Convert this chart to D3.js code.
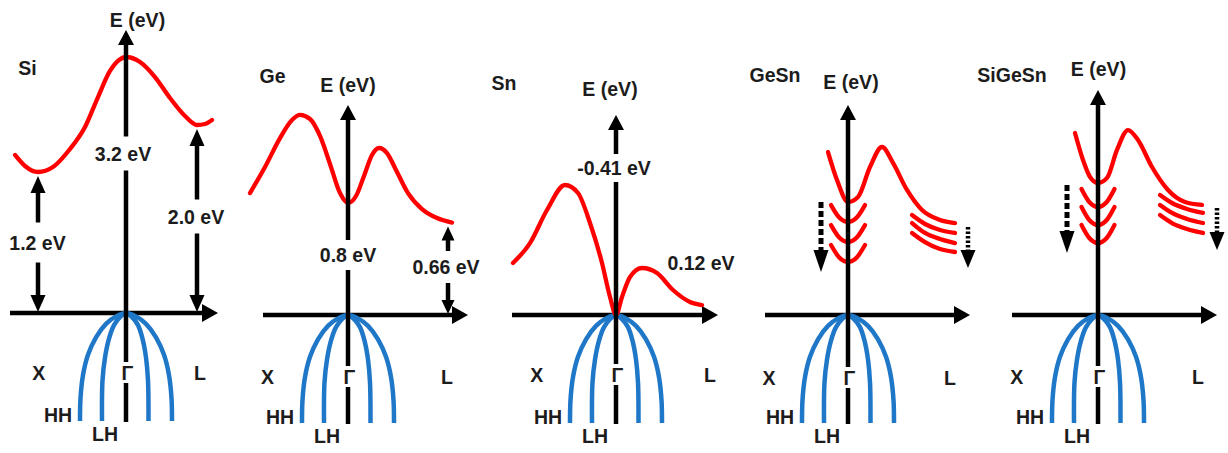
<!DOCTYPE html>
<html>
<head>
<meta charset="utf-8">
<script src="https://cdn.jsdelivr.net/npm/d3@7"></script>
<style>
  html, body { margin: 0; padding: 0; background: #ffffff; }
  svg { display: block; }
  text { font-family: "Liberation Sans", Arial, sans-serif; font-weight: bold; font-size: 19.5px; fill: #1c1c1c; }
</style>
</head>
<body>
<svg id="chart" width="1228" height="453"></svg>
<script>
// ---- data -----------------------------------------------------------------
const materials = ["Si", "Ge", "Sn", "GeSn", "SiGeSn"];
const symmetryPoints = ["X", "\u0393", "L"];
const bandNames = ["HH", "LH"];
const axisTitle = "E (eV)";

// lowest conduction band, [k, E]: k runs X (-1) -> Gamma (0) -> L (+1), E in eV
const siCB = [[-1.11,1.49],[-1.01,1.302],[-0.88,1.2],[-0.73,1.285],[-0.56,1.591],[-0.41,1.966],[-0.28,2.494],[-0.16,2.953],[-0.07,3.147],[0,3.2],[0.14,3.112],[0.29,2.847],[0.44,2.476],[0.59,2.159],[0.71,2.0],[0.79,2.018],[0.86,2.088]];
const geCB = [[-0.98,0.871],[-0.83,1.057],[-0.68,1.264],[-0.56,1.393],[-0.48,1.429],[-0.38,1.4],[-0.28,1.279],[-0.18,1.079],[-0.08,0.871],[0,0.8],[0.08,0.85],[0.16,0.993],[0.24,1.143],[0.31,1.193],[0.39,1.157],[0.48,1.036],[0.60,0.871],[0.74,0.757],[0.89,0.693],[1.04,0.66]];
const snCB = [[-1.03,0.627],[-0.86,0.867],[-0.69,1.265],[-0.51,1.566],[-0.38,1.47],[-0.26,1.108],[-0.14,0.627],[-0.06,0.217],[0,0],[0.06,0.217],[0.14,0.458],[0.26,0.566],[0.41,0.506],[0.57,0.301],[0.74,0.157],[0.86,0.12]];
const geSnCB = [[-0.20,1.164],[-0.11,0.964],[0,0.807],[0.10,0.843],[0.22,1.057],[0.34,1.2],[0.45,1.086],[0.59,0.893],[0.74,0.75],[0.92,0.679],[1.07,0.657]];
const siGeSnCB = [[-0.23,1.3],[-0.15,1.107],[-0.08,0.986],[0,0.943],[0.09,0.979],[0.19,1.179],[0.30,1.321],[0.40,1.25],[0.54,1.057],[0.70,0.893],[0.87,0.807],[1.04,0.786]];

// lowered Gamma and L valleys of the alloys
const geSnGammaValleys = [
  [[-0.17,0.785],[-0.09,0.698],[0,0.664],[0.09,0.698],[0.17,0.785]],
  [[-0.17,0.642],[-0.09,0.555],[0,0.521],[0.09,0.555],[0.17,0.642]],
  [[-0.17,0.50],[-0.09,0.413],[0,0.379],[0.09,0.413],[0.17,0.50]]
];
const geSnLValleys = [
  [[0.64,0.714],[0.77,0.65],[0.92,0.607],[1.07,0.586]],
  [[0.64,0.657],[0.77,0.586],[0.92,0.543],[1.07,0.514]],
  [[0.64,0.586],[0.77,0.521],[0.92,0.471],[1.07,0.45]]
];
const siGeSnGammaValleys = [
  [[-0.165,0.90],[-0.085,0.805],[0,0.771],[0.085,0.805],[0.165,0.90]],
  [[-0.165,0.772],[-0.085,0.677],[0,0.643],[0.085,0.677],[0.165,0.772]],
  [[-0.165,0.643],[-0.085,0.548],[0,0.514],[0.085,0.548],[0.165,0.643]]
];
const siGeSnLValleys = [
  [[0.62,0.857],[0.74,0.80],[0.89,0.757],[1.05,0.729]],
  [[0.62,0.786],[0.74,0.729],[0.89,0.686],[1.05,0.657]],
  [[0.62,0.714],[0.74,0.657],[0.89,0.614],[1.05,0.586]]
];

// heavy-hole and light-hole valence bands (same for every material)
const hhBand = [[-0.46,-0.8],[-0.455,-0.63],[-0.43,-0.46],[-0.38,-0.31],[-0.3,-0.18],[-0.2,-0.08],[-0.1,-0.025],[0,0],[0.1,-0.025],[0.2,-0.08],[0.3,-0.18],[0.38,-0.31],[0.43,-0.46],[0.455,-0.63],[0.46,-0.8]];
const lhBand = [[-0.24,-0.8],[-0.235,-0.5],[-0.21,-0.33],[-0.17,-0.19],[-0.12,-0.09],[-0.06,-0.03],[0,0],[0.06,-0.03],[0.12,-0.09],[0.165,-0.19],[0.2,-0.33],[0.22,-0.5],[0.225,-0.8]];
const bandLabelK = [-0.68, -0.21];
const bandLabelE = [-0.755, -0.896];

// marked gaps: k position and value in eV
const siGapK = [-0.88, 0, 0.71];
const siGapE = [1.2, 3.2, 2.0];
const geGapK = [0, 1.0];
const geGapE = [0.8, 0.66];
const snGapK = [0, 0.86];
const snGapE = [-0.41, 0.12];

// downward shift of the alloy valleys: [k, E from, E to]
const geSnShifts = [[-0.27, 0.807, 0.307], [1.2, 0.629, 0.336]];
const siGeSnShifts = [[-0.31, 0.929, 0.443], [1.19, 0.764, 0.464]];

// ---- layout ---------------------------------------------------------------
const panels = [
  { cb: siCB, gk: siGapK, ge: siGapE, kinds: ["arrow","axis","arrow"],
    gx: 126, axisY: 313, x0: 10, x1: 218, top: 30,
    eDom: [-0.8, 0, 1.2, 2.0, 3.2], eOff: [108, 0, -141, -188, -256],
    title: [27.5, 67.5], eTitle: [137.5, 19.7], symX: [38.7, 200], symDy: 60,
    labelPos: [[37.5, 242.5], [123, 153.5], [196, 216.5]], half: [20, 17, 17], head: [15, 17] },
  { cb: geCB, gk: geGapK, ge: geGapE, kinds: ["axis","arrow"],
    gx: 348, axisY: 315, x0: 263, x1: 468, top: 105,
    eDom: [-0.8, 0, 1], eOff: [108, 0, -140],
    title: [272.5, 76], eTitle: [348, 85], symX: [267.5, 447], symDy: 62,
    labelPos: [[348, 255], [446, 267]], half: [15, 16], head: [13, 14] },
  { cb: snCB, gk: snGapK, ge: snGapE, kinds: ["axis","text"],
    gx: 616, axisY: 315, x0: 512, x1: 718, top: 115,
    eDom: [-0.8, 0, 1], eOff: [108, 0, -83],
    title: [504, 83], eTitle: [610, 89], symX: [536.7, 710], symDy: 60,
    labelPos: [[614, 168], [701, 262.5]], half: [14, 0], head: [13, 14] },
  { cb: geSnCB, gv: geSnGammaValleys, lv: geSnLValleys, shifts: geSnShifts,
    gx: 848, axisY: 315, x0: 765, x1: 970, top: 105,
    eDom: [-0.8, 0, 1], eOff: [108, 0, -140],
    title: [775, 74.5], eTitle: [851, 82], symX: [769, 950], symDy: 63 },
  { cb: siGeSnCB, gv: siGeSnGammaValleys, lv: siGeSnLValleys, shifts: siGeSnShifts,
    gx: 1098, axisY: 315, x0: 1012, x1: 1217, top: 90,
    eDom: [-0.8, 0, 1], eOff: [108, 0, -140],
    title: [1012, 74.5], eTitle: [1098.5, 69], symX: [1016.7, 1198], symDy: 62 }
];

const INK = "#000000";
const RED = "#ff0000";
const BLUE = "#1f77c8";
const CAP = 7;          // half cap height, centres text on a y position

const svg = d3.select("#chart");

const fmt = v => v.toFixed(Math.round(Math.abs(v) * 100) % 10 === 0 ? 1 : 2) + " eV";

function head(g, x, tipY, dir, w, l) {
  // dir -1: points up, +1: points down
  const by = tipY - dir * l;
  g.append("path")
    .attr("d", `M${x},${tipY}L${x - w / 2},${by}L${x + w / 2},${by}Z`)
    .attr("fill", INK);
}

function seg(g, x, y0, y1, w, dash) {
  if (y1 <= y0) return;
  const s = g.append("line")
    .attr("x1", x).attr("x2", x).attr("y1", y0).attr("y2", y1)
    .attr("stroke", INK).attr("stroke-width", w);
  if (dash) s.attr("stroke-dasharray", dash);
}

// cut [a, b] by a list of [gapStart, gapEnd]
function pieces(a, b, gaps) {
  let out = [[a, b]];
  gaps.forEach(([g0, g1]) => {
    const next = [];
    out.forEach(([s, e]) => {
      if (g1 <= s || g0 >= e) { next.push([s, e]); return; }
      if (g0 > s) next.push([s, g0]);
      if (g1 < e) next.push([g1, e]);
    });
    out = next;
  });
  return out;
}

function text(g, str, x, y, anchor) {
  g.append("text").attr("x", x).attr("y", y + CAP)
    .attr("text-anchor", anchor || "middle").text(str);
}

panels.forEach((P, i) => {
  const g = svg.append("g").attr("class", "panel");
  const x = d3.scaleLinear().domain([-1, 1]).range([P.gx - 100, P.gx + 100]);
  const y = d3.scaleLinear().domain(P.eDom).range(P.eOff.map(d => P.axisY + d));
  const smooth = d3.line().curve(d3.curveMonotoneX)
    .x(d => x(d[0])).y(d => y(d[1]));
  const bent = d3.line().curve(d3.curveCatmullRom.alpha(0.5))
    .x(d => x(d[0])).y(d => y(d[1]));

  // k axis
  g.append("line")
    .attr("x1", P.x0).attr("x2", P.x1 - 14)
    .attr("y1", P.axisY).attr("y2", P.axisY)
    .attr("stroke", INK).attr("stroke-width", 4.5);
  g.append("path")
    .attr("d", `M${P.x1},${P.axisY}L${P.x1 - 16},${P.axisY - 9}L${P.x1 - 16},${P.axisY + 9}Z`)
    .attr("fill", INK);

  // valence bands
  [hhBand, lhBand].forEach(b => {
    g.append("path").attr("d", bent(b))
      .attr("fill", "none").attr("stroke", BLUE)
      .attr("stroke-width", 4.5).attr("stroke-linecap", "butt");
  });

  // conduction bands
  const red = [P.cb].concat(P.gv || [], P.lv || []);
  red.forEach(b => {
    g.append("path").attr("d", smooth(b))
      .attr("fill", "none").attr("stroke", RED)
      .attr("stroke-width", 4.3).attr("stroke-linecap", "round")
      .attr("stroke-linejoin", "round");
  });

  // energy axis, broken where a label sits on it
  const gaps = [];
  if (P.kinds) {
    P.kinds.forEach((k, j) => {
      if (k === "axis") gaps.push([P.labelPos[j][1] - P.half[j], P.labelPos[j][1] + P.half[j]]);
    });
  }
  const gxp = x(0);
  pieces(P.top + 13, P.axisY, gaps).forEach(([a, b]) => seg(g, gxp, a, b, 4.5));
  head(g, gxp, P.top, -1, 16, 15);
  seg(g, gxp, P.axisY, P.axisY + P.symDy - 11, 4.5);
  seg(g, gxp, P.axisY + P.symDy + 10, P.axisY + 109, 4.5);

  // marked gaps
  if (P.kinds) {
    P.kinds.forEach((kind, j) => {
      const [lx, ly] = P.labelPos[j];
      if (kind === "arrow") {
        const ax = x(P.gk[j]);
        const [hw, hl] = P.head;
        const tipTop = y(P.ge[j]) + 4;
        const tipBot = P.axisY - 1;
        head(g, ax, tipTop, -1, hw, hl);
        head(g, ax, tipBot, 1, hw, hl);
        pieces(tipTop + hl - 1, tipBot - hl + 1, [[ly - P.half[j], ly + P.half[j]]])
          .forEach(([a, b]) => seg(g, ax, a, b, 4.5));
      }
      text(g, fmt(P.ge[j]), lx, ly);
    });
  }

  // valley shift arrows
  if (P.shifts) {
    P.shifts.forEach((s, j) => {
      const ax = x(s[0]);
      const y0 = y(s[1]), y1 = y(s[2]);
      const hl = j === 0 ? 22 : 18;
      seg(g, ax, y0, y1 - hl + 1, j === 0 ? 5 : 4.5, j === 0 ? "6,3" : "2.5,2");
      head(g, ax, y1, 1, 15, hl);
    });
  }

  // labels
  text(g, materials[i], P.title[0], P.title[1]);
  text(g, axisTitle, P.eTitle[0], P.eTitle[1]);
  const symY = P.axisY + P.symDy;
  text(g, symmetryPoints[0], P.symX[0], symY);
  text(g, symmetryPoints[1], gxp - 4.5, symY, "start");
  text(g, symmetryPoints[2], P.symX[1], symY);
  bandNames.forEach((n, j) => text(g, n, x(bandLabelK[j]), y(bandLabelE[j])));
});
</script>
</body>
</html>
